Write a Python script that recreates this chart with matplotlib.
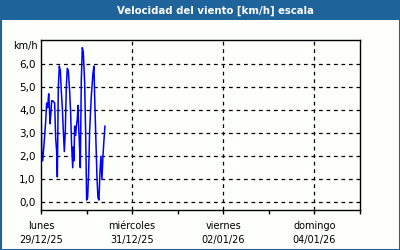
import matplotlib
matplotlib.use("Agg")
import matplotlib.pyplot as plt
from matplotlib.patches import Rectangle

# hours since lunes 29/12/25 00:00
hours = [0, 0.35, 0.88, 1.58, 2.46, 2.98, 3.51, 4.04, 4.39, 4.74, 5.26, 5.61, 6.14,
         7.19, 7.72, 8.25, 8.6, 9.12, 9.65, 10.18, 10.7, 11.23, 11.75, 12.28, 12.81,
         13.33, 13.86, 14.39, 15.09, 15.6, 16.1, 16.7, 17.0, 17.37, 17.72, 18.25,
         18.6, 19.12, 19.47, 19.82, 20.35, 20.7, 21.23, 21.75, 22.28, 22.98, 23.51,
         24.04, 24.56, 25.09, 25.61, 26.49, 27.37, 27.89, 28.25, 28.77, 29.47, 30.0,
         30.53, 31.05, 31.58, 32.1, 32.63, 33.16, 33.68]
wind = [4.4, 2.2, 1.8, 2.5, 3.5, 4.3, 4.1, 4.7, 4.2, 3.4, 3.9, 4.4, 4.4,
        4.3, 2.8, 2.2, 1.1, 5.0, 5.9, 5.7, 4.8, 4.1, 3.1, 2.2, 3.1,
        5.0, 5.8, 5.7, 4.8, 3.9, 2.5, 1.5, 2.4, 1.8, 3.3, 2.9,
        3.3, 3.6, 4.2, 3.3, 2.3, 1.5, 5.3, 6.7, 6.5, 5.2, 3.0,
        0.1, 0.2, 1.3, 3.1, 4.6, 5.6, 5.9, 4.6, 3.1, 1.1, 0.2,
        0.1, 1.3, 2.0, 1.0, 2.0, 2.7, 3.3]

day_ticks = [0, 1, 2, 3, 4, 5, 6, 7]
day_labels = ["lunes\n29/12/25", "", "miércoles\n31/12/25", "", "viernes\n02/01/26",
              "", "domingo\n04/01/26", ""]
y_ticks = [0, 1, 2, 3, 4, 5, 6]

blue = "#1f639b"
bg = "#fdfffb"

fig = plt.figure(figsize=(4, 2.5), dpi=100)
fig.patch.set_facecolor(bg)

# title bar and border
fig.patches.append(Rectangle((0, 1 - 20 / 250), 1, 20 / 250, transform=fig.transFigure,
                             facecolor=blue, edgecolor="none", zorder=0))
fig.patches.append(Rectangle((0.5 / 400, 0.5 / 250), 1 - 1 / 400, 1 - 1 / 250,
                             transform=fig.transFigure, facecolor="none",
                             edgecolor=blue, linewidth=1.5, zorder=1))
fig.text(215 / 400, 1 - 10.5 / 250, "Velocidad del viento [km/h] escala", color="white",
         fontsize=7.3, fontweight="bold", ha="center", va="center")

ax = fig.add_axes([41 / 400, 1 - 210 / 250, 319 / 400, 170 / 250])
ax.set_facecolor(bg)

days = [h / 24 for h in hours]
ax.plot(days, wind, color="#0000ff", linewidth=1.1)

ax.set_xlim(0, 7)
ax.set_ylim(-0.33, 7.03)
ax.set_xticks(day_ticks)
ax.set_xticklabels(day_labels, fontsize=7, linespacing=1.45)
ax.set_yticks(y_ticks)
ax.set_yticklabels([f"{v:.1f}".replace(".", ",") for v in y_ticks], fontsize=7.5)
ax.tick_params(axis="x", direction="out", length=3, width=1, pad=5)
ax.tick_params(axis="y", length=0, pad=4)

for y in y_ticks:
    ax.axhline(y, color="black", linestyle=(0, (3, 3)), linewidth=0.9, zorder=0)
for d in [2, 4, 6]:
    ax.axvline(d, color="black", linestyle=(0, (3, 3)), linewidth=0.9, zorder=0)

for s in ax.spines.values():
    s.set_linewidth(1)
    s.set_color("black")

fig.text(25 / 400, 1 - 46 / 250, "km/h", fontsize=7, ha="center", va="center")

fig.savefig("out.png", dpi=100, facecolor=fig.get_facecolor())
